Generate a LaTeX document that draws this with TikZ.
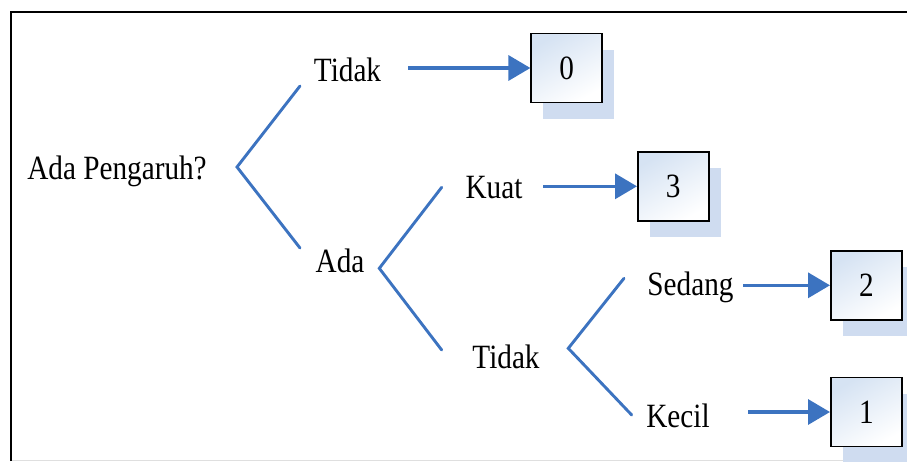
\documentclass[tikz,border=0pt]{standalone}
\usepackage{fontspec}
\setmainfont{Liberation Serif}
\usetikzlibrary{arrows.meta,shadows}
\definecolor{lineblue}{HTML}{3C73C0}
\definecolor{shadowblue}{HTML}{CFDCF0}
\definecolor{boxtop}{HTML}{D6E3F3}
\newcommand\sqz[1]{\scalebox{0.86}[1]{#1}}
\begin{document}
\begin{tikzpicture}[x=1pt,y=-1pt,
  lbl/.style={font=\fontsize{34}{40}\selectfont, inner sep=0pt, anchor=base},
  valbox/.style={draw=black, line width=1.6pt, minimum width=71pt, minimum height=69pt,
    inner sep=0pt, top color=boxtop, bottom color=white, shading angle=30,
    font=\fontsize{34}{40}\selectfont,
    general shadow={fill=shadowblue, shadow xshift=12pt, shadow yshift=-16pt}},
  branch/.style={draw=lineblue, line width=2.9pt, line cap=round, line join=miter},
  arr/.style={draw=lineblue, line width=3.4pt, -{Triangle[length=22pt,width=25pt]}}]
\useasboundingbox (0,0) rectangle (907,461);
% frame
\draw[gray!25, line width=1pt] (11,460) -- (907,460);
\draw[black, line width=2.2pt] (11,461) -- (11,12) -- (907,12);

% labels
\node[lbl] (q) at (117,179) {\sqz{Ada Pengaruh?}};
\node[lbl] (t1) at (347.5,81) {\sqz{Tidak}};
\node[lbl] (ada) at (340,272) {\sqz{Ada}};
\node[lbl] (kuat) at (494,198) {\sqz{Kuat}};
\node[lbl] (t2) at (506,368) {\sqz{Tidak}};
\node[lbl] (sedang) at (690.5,295) {\sqz{Sedang}};
\node[lbl] (kecil) at (678,427) {\sqz{Kecil}};

% value boxes
\node[valbox] (v0) at (566.7,68) {\sqz{0}};
\node[valbox] (v3) at (673.3,186.3) {\sqz{3}};
\node[valbox] (v2) at (866.3,285.3) {\sqz{2}};
\node[valbox] (v1) at (866.3,412) {\sqz{1}};

% branch points
\coordinate (a1) at (237,167);
\coordinate (a1u) at (300,86);
\coordinate (a1d) at (300,248);
\coordinate (a2) at (379.3,268.3);
\coordinate (a2u) at (441.7,187.3);
\coordinate (a2d) at (441.7,350);
\coordinate (a3) at (568.3,348.3);
\coordinate (a3u) at (624,278.3);
\coordinate (a3d) at (631.7,415);
\draw[branch] (a1u) -- (a1) -- (a1d);
\draw[branch] (a2u) -- (a2) -- (a2d);
\draw[branch] (a3u) -- (a3) -- (a3d);

% arrow starts
\coordinate (s0) at (408,68);
\coordinate (s3) at (543,186.3);
\coordinate (s2) at (743,285.3);
\coordinate (s1) at (748,412);
\draw[arr] (s0) -- (v0.west);
\draw[arr] (s3) -- (v3.west);
\draw[arr] (s2) -- (v2.west);
\draw[arr] (s1) -- (v1.west);
\end{tikzpicture}
\end{document}
